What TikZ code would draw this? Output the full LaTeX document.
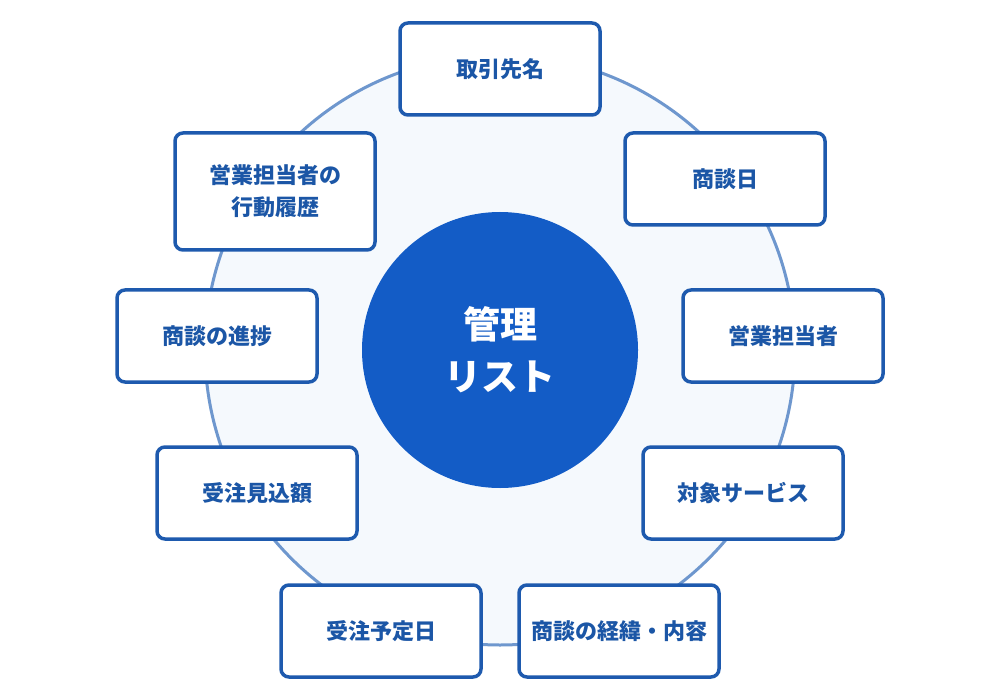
\documentclass[tikz,border=0pt]{standalone}
\usepackage{fontspec}
\setmainfont{Noto Sans CJK JP}
\definecolor{boxline}{HTML}{1E5AAE}
\definecolor{boxtext}{HTML}{1B56A6}
\definecolor{ringline}{HTML}{6E97CE}
\definecolor{ringfill}{HTML}{F5F9FD}
\definecolor{hub}{HTML}{135CC6}
\tikzset{
  item/.style={draw=boxline, line width=3.5pt, rounded corners=8pt, fill=white,
    minimum width=200pt, minimum height=92pt, inner sep=0pt, align=center,
    text=boxtext, font=\bfseries\fontsize{22}{32}\selectfont},
}
\begin{document}
\begin{tikzpicture}[x=1pt,y=-1pt]
\fill[white] (0,0) rectangle (1000,700);
\useasboundingbox (0,0) rectangle (1000,700);
\node[circle, draw=ringline, line width=3pt, fill=ringfill, minimum size=590pt, inner sep=0pt] (ring) at (500,350) {};
\node[circle, fill=hub, minimum size=276pt, inner sep=0pt, text=white, align=center,
  font=\bfseries\fontsize{37}{52}\selectfont] (hubnode) at (500,350) {管理\\リスト};
\node[item] (b1) at (500,69) {取引先名};
\node[item] (b2) at (725,179) {商談日};
\node[item] (b3) at (783,336) {営業担当者};
\node[item] (b4) at (743,493) {対象サービス};
\node[item] (b5) at (619,631) {商談の経緯・内容};
\node[item] (b6) at (381,631) {受注予定日};
\node[item] (b7) at (257,493) {受注見込額};
\node[item] (b8) at (217,336) {商談の進捗};
\node[item, minimum height=117pt] (b9) at (275,191.5) {営業担当者の\\行動履歴};
\end{tikzpicture}
\end{document}
